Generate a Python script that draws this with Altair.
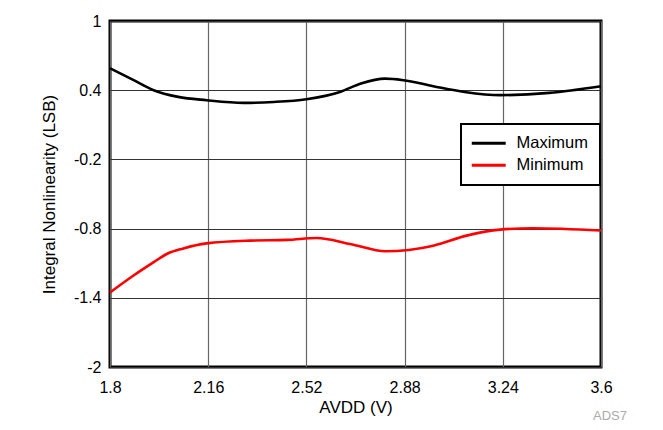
import altair as alt
import pandas as pd

# Data
vdd_max = [1.8, 1.885, 1.96, 2.05, 2.154, 2.29, 2.40, 2.52, 2.643, 2.72, 2.808, 2.875, 2.985, 3.10, 3.23, 3.41, 3.6]
inl_max = [0.59, 0.49, 0.40, 0.342, 0.313, 0.29, 0.298, 0.322, 0.385, 0.458, 0.50, 0.487, 0.435, 0.385, 0.357, 0.377, 0.435]

vdd_min = [1.8, 1.885, 1.959, 2.008, 2.069, 2.154, 2.313, 2.45, 2.557, 2.68, 2.81, 2.985, 3.107, 3.23, 3.35, 3.6]
inl_min = [-1.354, -1.209, -1.093, -1.02, -0.972, -0.928, -0.904, -0.898, -0.881, -0.933, -0.997, -0.948, -0.861, -0.809, -0.797, -0.817]

series_names = ["Maximum", "Minimum"]
series_colors = ["#000000", "#ff0000"]
x_ticks = [1.8, 2.16, 2.52, 2.88, 3.24, 3.6]
y_ticks = [-2, -1.4, -0.8, -0.2, 0.4, 1]

df = pd.concat([
    pd.DataFrame({"AVDD": vdd_max, "INL": inl_max, "Series": series_names[0], "order": range(len(vdd_max))}),
    pd.DataFrame({"AVDD": vdd_min, "INL": inl_min, "Series": series_names[1], "order": range(len(vdd_min))}),
])

FONT = "Liberation Sans"

lines = alt.Chart(df).mark_line(interpolate="monotone", strokeWidth=2.6).encode(
    x=alt.X("AVDD:Q", title="AVDD (V)",
            scale=alt.Scale(domain=[1.8, 3.6], nice=False, zero=False),
            axis=alt.Axis(values=x_ticks, labelExpr="'' + datum.value", tickSize=0,
                          labelPadding=12, titlePadding=4, domain=False, labelFlush=False,
                          grid=True, gridColor="#666666", gridWidth=1.2,
                          labelFontSize=16, titleFontSize=17, labelColor="#000",
                          titleColor="#000", titleFontWeight="normal",
                          labelFont=FONT, titleFont=FONT)),
    y=alt.Y("INL:Q", title="Integral Nonlinearity (LSB)",
            scale=alt.Scale(domain=[-2, 1], nice=False, zero=False),
            axis=alt.Axis(values=y_ticks, labelExpr="'' + datum.value", tickSize=0,
                          labelPadding=9, titlePadding=15, domain=False, labelFlush=False,
                          grid=True, gridColor="#333333", gridWidth=1.2,
                          labelFontSize=16, titleFontSize=17, labelColor="#000",
                          titleColor="#000", titleFontWeight="normal",
                          labelFont=FONT, titleFont=FONT)),
    color=alt.Color("Series:N",
                    scale=alt.Scale(domain=series_names, range=series_colors),
                    legend=alt.Legend(title=None, orient="none", legendX=351, legendY=103,
                                      symbolType="M-3,0H9", symbolSize=32,
                                      symbolStrokeWidth=2.8, labelFontSize=16.5,
                                      labelFont=FONT, labelColor="#000",
                                      strokeColor="#000000", fillColor="#ffffff",
                                      padding=11, rowPadding=5, labelOffset=28)),
    order="order:Q",
)

note = alt.Chart(pd.DataFrame({"t": ["ADS7"]})).mark_text(
    align="left", baseline="middle", fontSize=13, font=FONT, color="#aaaaaa"
).encode(x=alt.value(483), y=alt.value(395), text="t:N")

chart = alt.layer(lines, note).properties(
    width=491, height=346,
    padding={"left": 102, "top": 13, "right": 54, "bottom": 55},
    autosize=alt.AutoSizeParams(type="none"),
    background="#ffffff",
).configure_view(
    stroke="#000000", strokeWidth=3
).configure_legend(
    strokeWidth=2
)

chart.save("out.html", embed_options={"renderer": "svg", "actions": False})
